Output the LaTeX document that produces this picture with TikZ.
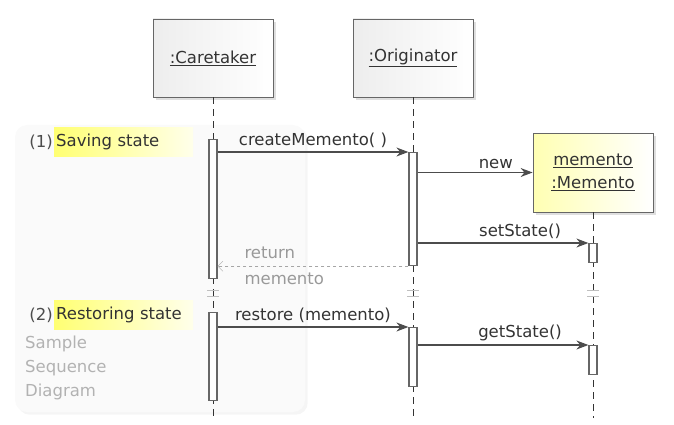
\documentclass[tikz,border=0pt]{standalone}
\usepackage{fontspec}
\setmainfont{DejaVu Sans}
\usetikzlibrary{arrows.meta,shadows}

\begin{document}
\begin{tikzpicture}[x=1pt,y=-1pt,font=\fontsize{16.5}{23}\selectfont,text=black!80,
    head/.style={draw=gray!80!black,thick,minimum width=120pt,minimum height=78pt,
      left color=gray!14,right color=white,drop shadow={opacity=0.25,shadow xshift=3pt,shadow yshift=-3pt}},
    obj/.style={head,minimum height=79pt,left color=yellow!30,right color=white},
    act/.style={draw=gray!80!black,fill=white,line width=1.2pt,minimum width=8pt,inner sep=0pt,anchor=north},
    life/.style={draw=black!80,thick,dash pattern=on 7pt off 5pt},
    msg/.style={draw=black!70,line width=1.2pt,-{Stealth[length=12pt,width=9pt]}},
    ret/.style={draw=gray!70,dashed,-{Straight Barb[length=5pt,width=10pt]}},
    brk/.style={draw=gray!50,thick},
    hilite/.style={anchor=west,inner sep=1pt,minimum height=29pt,minimum width=139pt,text width=135pt,
      left color=yellow!55,right color=yellow!8},
    note/.style={anchor=base west,text=gray!60,inner sep=0pt}]
\useasboundingbox (0,0) rectangle (674,425);
% background card
\fill[gray!4,rounded corners=12pt,drop shadow={opacity=0.08}] (15,125) rectangle (305,412);
\coordinate (bot) at (0,418);
% heads
\node[head] (care) at (213,58) {\underline{:Caretaker}};
\node[head] (orig) at (413,58) {\underline{:Originator}};
\node[obj,align=center] (mem) at (593,172.5) {\underline{memento}\\\underline{:Memento}};
% lifelines
\draw[life] (care.south) -- (care.south |- bot);
\draw[life] (orig.south) -- (orig.south |- bot);
\draw[life] (mem.south) -- (mem.south |- bot);
% break marks
\foreach \l in {care,orig,mem} {
  \draw[brk] ([xshift=-6pt]\l.south |- 0,290) -- ([xshift=6pt]\l.south |- 0,290);
  \draw[brk] ([xshift=-6pt]\l.south |- 0,296) -- ([xshift=6pt]\l.south |- 0,296);
}
% activations
\node[act,minimum height=139pt] (c1) at (care.south |- 0,139) {};
\node[act,minimum height=113pt] (o1) at (orig.south |- 0,152) {};
\node[act,minimum height=19pt] (m1) at (mem.south |- 0,243) {};
\node[act,minimum height=88pt] (c2) at (care.south |- 0,312) {};
\node[act,minimum height=59pt] (o2) at (orig.south |- 0,327) {};
\node[act,minimum height=29pt] (m2) at (mem.south |- 0,345) {};
% messages
\draw[msg] (c1.east |- o1.north west) -- node[above] {createMemento( )} (o1.north west);
\draw[msg] (o1.east |- mem.west) -- node[above,pos=0.68] {new} (mem.west);
\draw[msg] (o1.east |- m1.north west) -- node[above,pos=0.6] {setState()} (m1.north west);
\draw[ret] (o1.south west) -- (c1.east |- o1.south west);
\node[anchor=base west,text=gray!80] (r1) at (241,258) {return};
\node[anchor=base west,text=gray!80] (r2) at (241,284) {memento};
\draw[msg] (c2.east |- o2.north west) -- node[above] {restore (memento)} (o2.north west);
\draw[msg] (o2.east |- m2.north west) -- node[above,pos=0.6] {getState()} (m2.north west);
% frame labels
\node[hilite] (s1) at (54,142) {Saving state};
\node[anchor=east,inner sep=1pt,text=black!70] (n1) at (s1.west) {(1)};
\node[hilite] (s2) at (54,315) {Restoring state};
\node[anchor=east,inner sep=1pt,text=black!70] (n2) at (s2.west) {(2)};
\node[note] (d1) at (25,348) {Sample};
\node[note] (d2) at (25,372) {Sequence};
\node[note] (d3) at (25,396) {Diagram};
\end{tikzpicture}
\end{document}
